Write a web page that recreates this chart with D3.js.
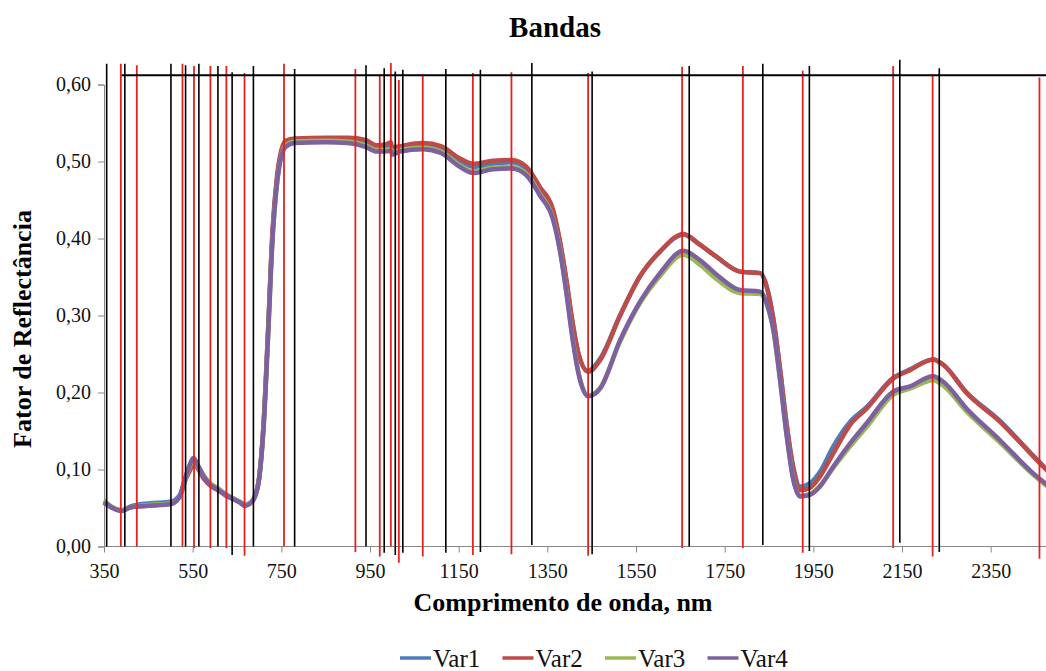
<!DOCTYPE html>
<html>
<head>
<meta charset="utf-8">
<script src="https://cdn.jsdelivr.net/npm/d3@7"></script>
<style>
  body { margin: 0; background: #fff; }
  text { font-family: "Liberation Serif", "Times New Roman", serif; }
</style>
</head>
<body>
<div id="chart"></div>
<script>
// wavelengths (nm) shared by all four series
const wavelengths = [350, 370, 390, 410, 450, 500, 520, 535, 545, 552, 562, 575, 590, 607, 625, 640, 657, 668, 680, 690,
  700, 710, 720, 730, 740, 750, 760, 780, 850, 900, 940, 965, 985, 997, 1000, 1018, 1070, 1110, 1150, 1183,
  1228, 1270, 1303, 1333, 1363, 1378, 1393, 1405, 1420, 1442, 1469, 1514, 1559, 1604, 1657, 1694, 1732, 1785, 1830, 1845,
  1860, 1875, 1890, 1905, 1920, 1942, 1965, 1995, 2033, 2070, 2130, 2168, 2220, 2243, 2296, 2371, 2446, 2500];

const var1 = [0.057, 0.050, 0.047, 0.052, 0.056, 0.058, 0.066, 0.092, 0.108, 0.115, 0.105, 0.091, 0.081, 0.075, 0.067, 0.063, 0.058, 0.054, 0.057, 0.065,
  0.090, 0.160, 0.280, 0.405, 0.476, 0.512, 0.523, 0.527, 0.528, 0.527, 0.524, 0.517, 0.518, 0.519, 0.515, 0.516, 0.520, 0.516, 0.502, 0.493,
  0.497, 0.499, 0.490, 0.465, 0.435, 0.396, 0.345, 0.297, 0.251, 0.228, 0.244, 0.300, 0.351, 0.383, 0.405, 0.392, 0.376, 0.357, 0.355, 0.337,
  0.295, 0.230, 0.158, 0.103, 0.078, 0.082, 0.097, 0.130, 0.162, 0.181, 0.219, 0.230, 0.243, 0.236, 0.200, 0.163, 0.118, 0.086];

const var2 = [0.057, 0.050, 0.046, 0.051, 0.053, 0.056, 0.064, 0.088, 0.100, 0.108, 0.101, 0.088, 0.079, 0.073, 0.066, 0.062, 0.057, 0.053, 0.056, 0.065,
  0.090, 0.160, 0.280, 0.410, 0.480, 0.515, 0.527, 0.530, 0.531, 0.531, 0.528, 0.521, 0.522, 0.525, 0.518, 0.520, 0.524, 0.520, 0.505, 0.497,
  0.501, 0.502, 0.493, 0.467, 0.437, 0.398, 0.346, 0.298, 0.251, 0.227, 0.242, 0.300, 0.351, 0.383, 0.406, 0.392, 0.376, 0.357, 0.355, 0.337,
  0.294, 0.229, 0.156, 0.099, 0.073, 0.076, 0.091, 0.121, 0.158, 0.179, 0.218, 0.229, 0.243, 0.236, 0.199, 0.162, 0.117, 0.085];

const var3 = [0.060, 0.051, 0.047, 0.051, 0.054, 0.056, 0.064, 0.090, 0.106, 0.113, 0.104, 0.092, 0.082, 0.076, 0.068, 0.063, 0.058, 0.055, 0.057, 0.065,
  0.088, 0.155, 0.272, 0.398, 0.470, 0.508, 0.521, 0.526, 0.527, 0.526, 0.521, 0.515, 0.515, 0.516, 0.512, 0.515, 0.518, 0.513, 0.496, 0.487,
  0.492, 0.493, 0.484, 0.458, 0.426, 0.387, 0.331, 0.279, 0.227, 0.196, 0.206, 0.266, 0.316, 0.351, 0.379, 0.366, 0.347, 0.329, 0.328, 0.314,
  0.280, 0.216, 0.144, 0.087, 0.066, 0.068, 0.079, 0.102, 0.130, 0.155, 0.197, 0.205, 0.216, 0.209, 0.175, 0.135, 0.093, 0.068];

const var4 = [0.058, 0.050, 0.046, 0.051, 0.053, 0.055, 0.064, 0.092, 0.108, 0.115, 0.105, 0.091, 0.080, 0.074, 0.067, 0.062, 0.057, 0.053, 0.056, 0.064,
  0.088, 0.155, 0.272, 0.398, 0.470, 0.507, 0.519, 0.524, 0.525, 0.524, 0.519, 0.513, 0.513, 0.514, 0.509, 0.513, 0.516, 0.511, 0.494, 0.485,
  0.490, 0.491, 0.482, 0.456, 0.424, 0.385, 0.329, 0.277, 0.225, 0.195, 0.205, 0.268, 0.318, 0.355, 0.384, 0.372, 0.353, 0.333, 0.331, 0.316,
  0.281, 0.216, 0.143, 0.086, 0.065, 0.067, 0.078, 0.104, 0.134, 0.160, 0.201, 0.208, 0.221, 0.214, 0.179, 0.138, 0.095, 0.070];

const seriesNames = ['Var1', 'Var2', 'Var3', 'Var4'];
const seriesColors = ['#4a7ebb', '#be4b48', '#98b954', '#7d60a0'];

// band markers: wavelength, top and bottom in reflectance units
const blackBands  = [356, 397, 501, 534, 564, 607, 639, 687, 780, 941, 982, 1007, 1024, 1121, 1199, 1315, 1451, 1670, 1836, 1941, 2145, 2234];
const blackTop    = [0.627, 0.627, 0.627, 0.625, 0.627, 0.624, 0.616, 0.624, 0.620, 0.625, 0.621, 0.617, 0.619, 0.620, 0.619, 0.628, 0.617, 0.624, 0.627, 0.624, 0.632, 0.621];
const blackBottom = [0, 0, 0, 0, 0, 0, -0.011, 0, 0, 0, -0.008, -0.011, -0.008, -0.008, -0.007, 0.002, -0.010, 0, 0.002, -0.006, 0.005, -0.007];

const redBands  = [388, 424, 527, 553, 590, 626, 667, 756, 917, 972, 997, 1015, 1069, 1182, 1269, 1442, 1654, 1791, 1926, 2130, 2219, 2460];
const redTop    = [0.627, 0.625, 0.627, 0.624, 0.624, 0.624, 0.615, 0.627, 0.620, 0.613, 0.628, 0.606, 0.613, 0.615, 0.616, 0.615, 0.623, 0.624, 0.618, 0.624, 0.613, 0.609];
const redBottom = [0, 0, 0, -0.002, -0.002, -0.002, -0.012, 0, -0.007, -0.013, 0, -0.021, -0.013, -0.011, -0.010, -0.012, -0.002, -0.002, -0.008, -0.002, -0.013, -0.016];

const topLine = { from: 390, to: 2500, value: 0.612 };

const xTicks = [350, 550, 750, 950, 1150, 1350, 1550, 1750, 1950, 2150, 2350];
const yTicks = [0, 0.1, 0.2, 0.3, 0.4, 0.5, 0.6];

document.addEventListener('DOMContentLoaded', () => {
  const width = 1046;
  const height = 671;
  const left = 104;
  const bottom = 546.5;
  const top = 84.5;

  const svg = d3.select('#chart')
                .append('svg')
                .attr('width', width)
                .attr('height', height);

  const xScale = d3.scaleLinear()
                   .domain([350, 2500])
                   .range([left, left + 2150 * 0.44335]);

  const yScale = d3.scaleLinear()
                   .domain([0, 0.6])
                   .range([bottom, top]);

  // axes
  const xAxis = d3.axisBottom(xScale)
                  .tickValues(xTicks)
                  .tickSize(6)
                  .tickPadding(11)
                  .tickFormat(d3.format('d'));

  const gx = svg.append('g')
                .attr('transform', 'translate(0, ' + bottom + ')')
                .call(xAxis);
  gx.select('.domain').attr('stroke', '#888').attr('d', 'M' + left + ',0H' + width);
  gx.selectAll('.tick line').attr('stroke', '#888');
  gx.selectAll('.tick text')
    .attr('font-size', 20)
    .attr('fill', '#111');

  const yAxis = d3.axisLeft(yScale)
                  .tickValues(yTicks)
                  .tickSize(6)
                  .tickPadding(7)
                  .tickFormat(d => d3.format('.2f')(d).replace('.', ','));

  const gy = svg.append('g')
                .attr('transform', 'translate(' + left + ', 0)')
                .call(yAxis);
  gy.select('.domain').attr('stroke', '#888');
  gy.selectAll('.tick line').attr('stroke', '#888');
  gy.selectAll('.tick text')
    .attr('font-size', 20)
    .attr('fill', '#111');

  // spectra
  const line = d3.line()
                 .x((d, i) => xScale(wavelengths[i]))
                 .y(d => yScale(d))
                 .curve(d3.curveMonotoneX);

  [var1, var2, var3, var4].forEach((values, i) => {
    svg.append('path')
       .datum(values)
       .attr('d', line)
       .attr('fill', 'none')
       .attr('stroke', seriesColors[i])
       .attr('stroke-width', 4.5)
       .attr('stroke-linejoin', 'round');
  });

  // band lines
  svg.selectAll('line.red-band')
     .data(redBands)
     .enter()
     .append('line')
     .attr('class', 'red-band')
     .attr('x1', d => xScale(d))
     .attr('x2', d => xScale(d))
     .attr('y1', (d, i) => yScale(redTop[i]))
     .attr('y2', (d, i) => yScale(redBottom[i]))
     .attr('stroke', '#e2231f')
     .attr('stroke-width', 1.8);

  svg.selectAll('line.black-band')
     .data(blackBands)
     .enter()
     .append('line')
     .attr('class', 'black-band')
     .attr('x1', d => xScale(d))
     .attr('x2', d => xScale(d))
     .attr('y1', (d, i) => yScale(blackTop[i]))
     .attr('y2', (d, i) => yScale(blackBottom[i]))
     .attr('stroke', '#000')
     .attr('stroke-width', 1.6);

  svg.append('line')
     .attr('x1', xScale(topLine.from))
     .attr('x2', xScale(topLine.to))
     .attr('y1', yScale(topLine.value))
     .attr('y2', yScale(topLine.value))
     .attr('stroke', '#000')
     .attr('stroke-width', 2);

  // titles
  svg.append('text')
     .attr('x', 555)
     .attr('y', 37)
     .attr('text-anchor', 'middle')
     .attr('font-size', 29)
     .attr('font-weight', 'bold')
     .text('Bandas');

  svg.append('text')
     .attr('x', 563)
     .attr('y', 611)
     .attr('text-anchor', 'middle')
     .attr('font-size', 26)
     .attr('font-weight', 'bold')
     .text('Comprimento de onda, nm');

  svg.append('text')
     .attr('transform', 'translate(31, 329) rotate(-90)')
     .attr('text-anchor', 'middle')
     .attr('font-size', 26)
     .attr('font-weight', 'bold')
     .text('Fator de Reflectância');

  // legend
  const legend = svg.selectAll('g.legend')
                    .data(seriesNames)
                    .enter()
                    .append('g')
                    .attr('class', 'legend')
                    .attr('transform', (d, i) => 'translate(' + (400 + i * 102.5) + ', 658)');

  legend.append('line')
        .attr('x1', 0)
        .attr('x2', 31)
        .attr('y1', 0)
        .attr('y2', 0)
        .attr('stroke', (d, i) => seriesColors[i])
        .attr('stroke-width', 3.5);

  legend.append('text')
        .attr('x', 33)
        .attr('y', 8.5)
        .attr('font-size', 25)
        .attr('fill', '#111')
        .text(d => d);
});
</script>
</body>
</html>
